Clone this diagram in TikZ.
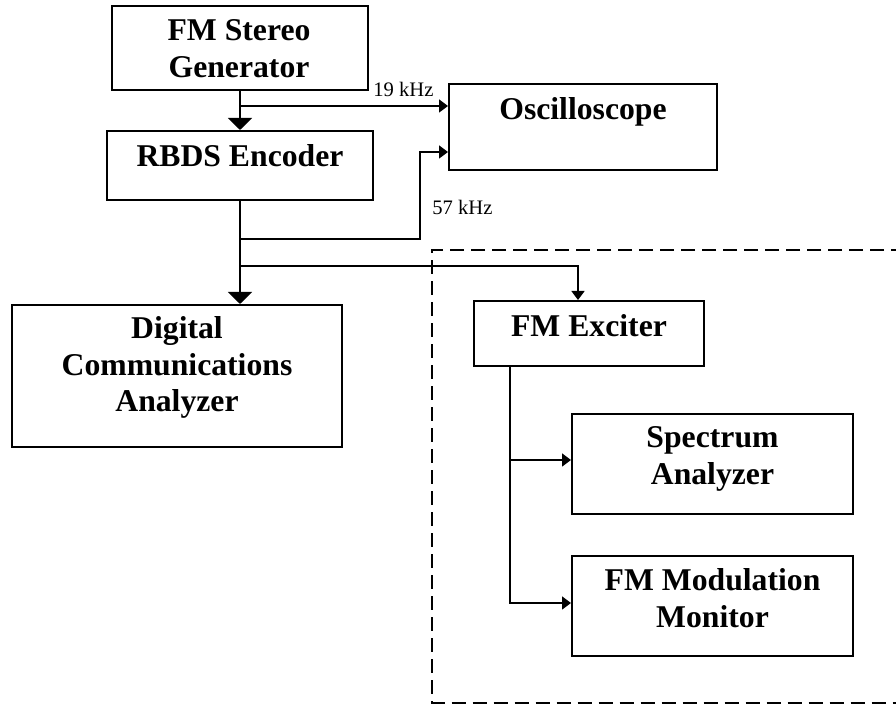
\documentclass[tikz,border=0pt]{standalone}
\usepackage{fontspec}
\setmainfont{Liberation Serif}
\usetikzlibrary{arrows.meta,calc}
\tikzset{
  blk/.style={draw=black, line width=1pt, rectangle, inner sep=0pt},
  txt/.style={inner sep=0pt, align=center, font=\bfseries\fontsize{15.85}{18.4}\selectfont},
  lbl/.style={inner sep=0pt, font=\fontsize{10.3}{12}\selectfont},
  conn/.style={line width=0.75pt},
  bigarr/.style={conn, -{Triangle[width=12pt,length=6pt]}},
  smallarr/.style={conn, -{Triangle[width=6.5pt,length=4.5pt]}},
  dashbox/.style={line width=1pt, dash pattern=on 7pt off 3.5pt}
}
\begin{document}
\begin{tikzpicture}[x=0.5pt,y=-0.5pt]
\useasboundingbox (0,0) rectangle (896,704);
\clip (0,0) rectangle (896,704);
% boxes
\node[blk, minimum width=128pt, minimum height=42pt] (gen) at (240,48) {};
\node[blk, minimum width=133pt, minimum height=34.5pt] (rbds) at (240,165.5) {};
\node[blk, minimum width=134pt, minimum height=43pt] (osc) at (583,127) {};
\node[blk, minimum width=165pt, minimum height=71pt] (dca) at (177,376) {};
\node[blk, minimum width=115pt, minimum height=32.5pt] (exc) at (589,333.5) {};
\node[blk, minimum width=140.5pt, minimum height=50pt] (spa) at (712.5,464) {};
\node[blk, minimum width=140.5pt, minimum height=50pt] (fmm) at (712.5,606) {};
% texts
\node[txt] (genT) at (239,49) {FM Stereo\\Generator};
\node[txt, anchor=base] (rbdsT) at (240,167) {RBDS Encoder};
\node[txt, anchor=base] (oscT) at (583,120) {Oscilloscope};
\node[txt] (dcaT) at (177,367.5) {Digital\\Communications\\Analyzer};
\node[txt, anchor=base] (excT) at (589,337) {FM Exciter};
\node[txt] (spaT) at (712.5,458.8) {Spectrum\\Analyzer};
\node[txt] (fmmT) at (712.5,597.8) {FM Modulation\\Monitor};
\node[lbl, anchor=base west] (l19) at (373,96.5) {19 kHz};
\node[lbl, anchor=base west] (l57) at (432,215) {57 kHz};
% junctions
\coordinate (j1) at (240,106);
\coordinate (j2) at (240,239);
\coordinate (j3) at (240,266);
\coordinate (c57) at (420,152);
\coordinate (e1) at ($(exc.north)+(-11,0)$);
\coordinate (e2) at ($(exc.south)+(-79,0)$);
% connectors
\draw[bigarr] (gen.south) -- (rbds.north);
\draw[smallarr] (j1) -- (j1 -| osc.west);
\draw[bigarr] (rbds.south) -- (rbds.south |- dca.north);
\draw[smallarr] (j2) -| (c57) -- (c57 -| osc.west);
\draw[smallarr] (j3) -| (e1);
\draw[smallarr] (e2) |- ($(fmm.west)+(0,-3)$);
\draw[smallarr] ($(spa.west -| e2)+(0,-4)$) -- ($(spa.west)+(0,-4)$);
% dashed region
\draw[dashbox] (905,250.5) -- (432,250.5) -- (432,703) -- (905,703);
\end{tikzpicture}
\end{document}
